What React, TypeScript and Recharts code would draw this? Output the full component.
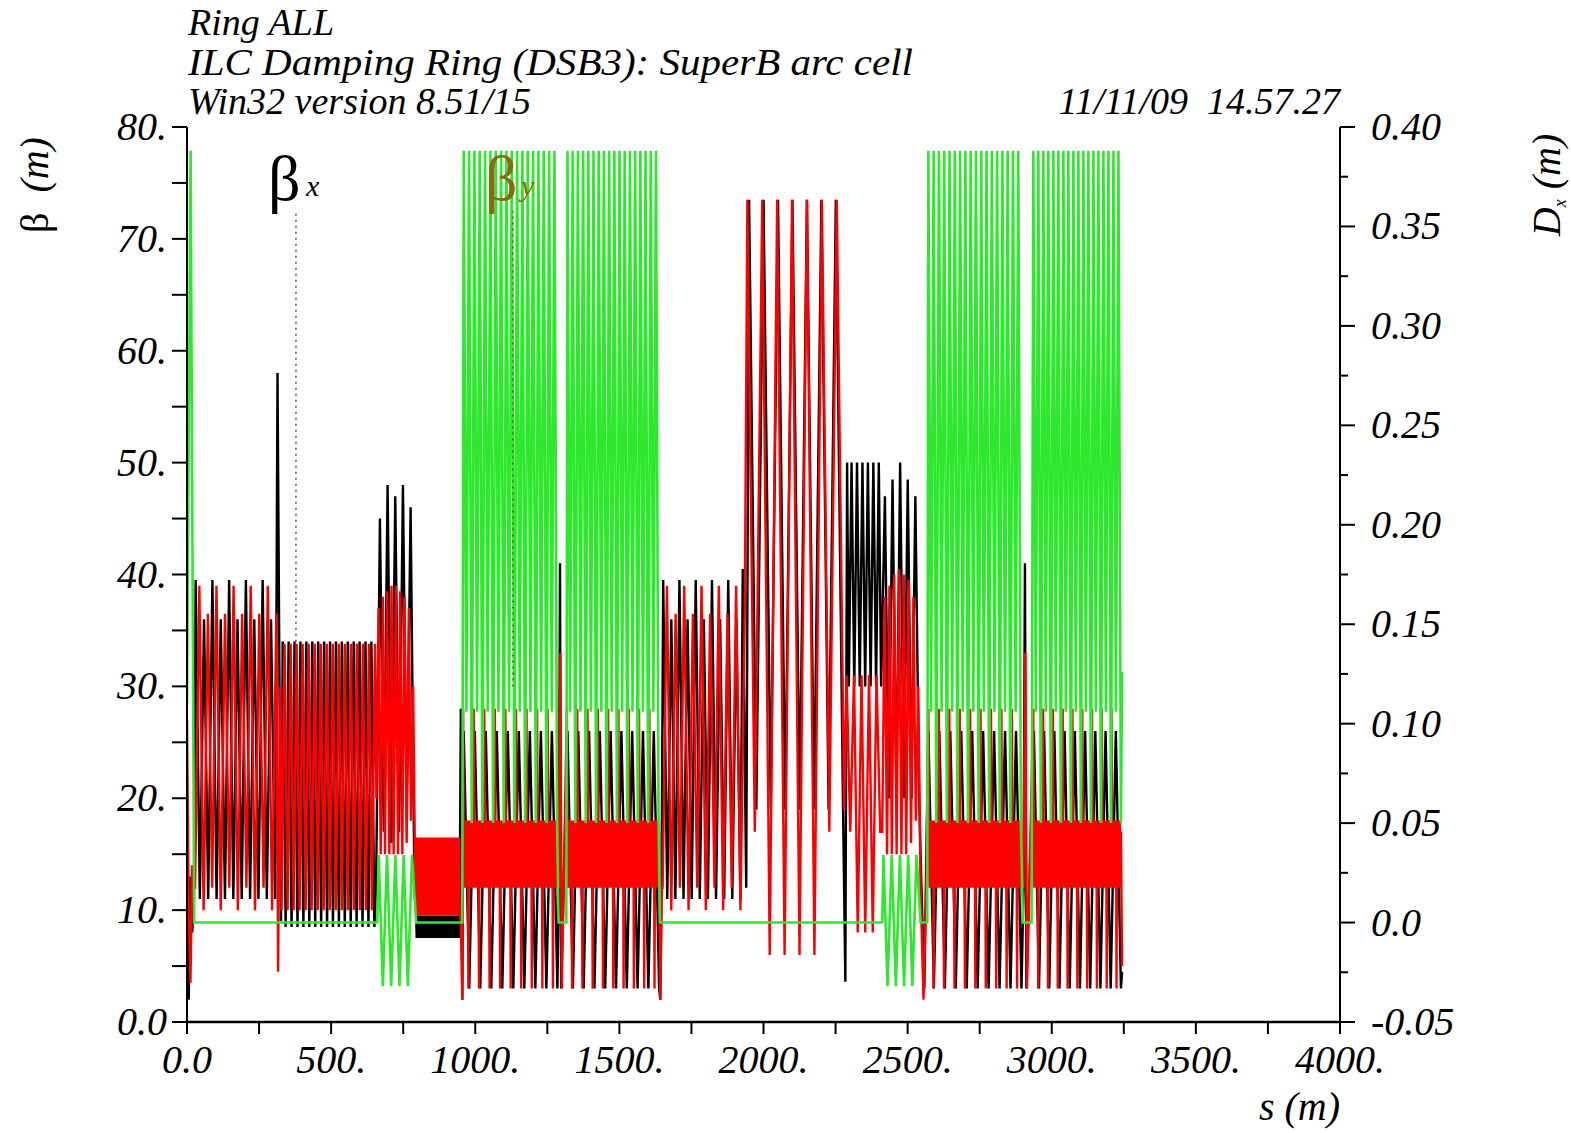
import { LineChart, Line, XAxis, YAxis, ReferenceLine } from 'recharts';

// run = [s from, s to, how many times the values repeat]
type Run = [number, number, number[], number];

const S_TICKS = [0, 250, 500, 750, 1000, 1250, 1500, 1750, 2000, 2250, 2500, 2750, 3000, 3250, 3500, 3750, 4000];
const S_LABELS: Record<number, string> = { 0: '0.0', 500: '500.', 1000: '1000.', 1500: '1500.', 2000: '2000.', 2500: '2500.', 3000: '3000.', 3500: '3500.', 4000: '4000.' };
const BETA_TICKS = [0, 5, 10, 15, 20, 25, 30, 35, 40, 45, 50, 55, 60, 65, 70, 75, 80];
const BETA_LABELS: Record<number, string> = { 0: '0.0', 10: '10.', 20: '20.', 30: '30.', 40: '40.', 50: '50.', 60: '60.', 70: '70.', 80: '80.' };
const DISP_TICKS = [-0.05, -0.025, 0, 0.025, 0.05, 0.075, 0.1, 0.125, 0.15, 0.175, 0.2, 0.225, 0.25, 0.275, 0.3, 0.325, 0.35, 0.375, 0.4];
const DISP_LABELS = ['-0.05', '0.0', '0.05', '0.10', '0.15', '0.20', '0.25', '0.30', '0.35', '0.40'];

// one arc cell (about 37 m) of each function
const ARC_BX_CELL = [26, 3];
const ARC_BY_CELL = [28, 17, 12, 18, 12, 18, 12, 18, 12, 18, 3, 18, 12, 18, 12, 18, 12, 18, 12, 17];
const ARC_DX_CELL = [0.388, 0.106, 0.388, 0.05];
const ARC_CELLS = 9;

// one cell of the straight-section matching blocks
const MATCH_BX_CELL = [39.5, 11, 36, 11];
const MATCH_BY_CELL = [12, 39, 10, 36.5];

const BETA_X_RUNS: Run[] = [
  [0, 24, [12, 2, 13, 8, 11], 1],
  [30, 306, MATCH_BX_CELL, 5],
  [314, 326, [58, 9], 1],
  [332, 650, [34, 8.5], 16],
  [656, 789, [12, 45, 17, 48, 16, 47, 17, 48, 18, 46, 12], 1],
  [795, 945, [9.5, 7.5], 40],
  [950, 955, [28, 2], 1],
  [960, 1285, ARC_BX_CELL, ARC_CELLS],
  [1290, 1298, [12, 41, 3], 1],
  [1320, 1638, ARC_BX_CELL, ARC_CELLS],
  [1642, 1646, [2, 11], 1],
  [1652, 1920, MATCH_BX_CELL, 5],
  [1928, 1940, [40.5, 12], 1],
  [1950, 2276, [73.5, 19], 7],
  [2284, 2290, [3.6, 50], 1],
  [2296, 2400, [30, 50], 6],
  [2408, 2540, [30, 47, 20, 48.5, 20, 50, 20, 48.5, 20, 47, 20], 1],
  [2548, 2568, [12, 3, 20], 1],
  [2572, 2895, ARC_BX_CELL, ARC_CELLS],
  [2902, 2912, [12, 41, 3], 1],
  [2938, 3240, ARC_BX_CELL, ARC_CELLS],
  [3244, 3244, [4.5], 1],
];

const BETA_Y_RUNS: Run[] = [
  [0, 24, [27, 10, 3.5, 14, 12], 1],
  [28, 310, MATCH_BY_CELL, 5],
  [316, 324, [4.5, 30], 1],
  [328, 652, [10, 33.8], 16],
  [657, 792, [20, 37, 15, 38, 15, 38.5, 15, 39, 15, 39, 15, 38.5, 15, 38, 16, 37, 18, 30, 12], 1],
  [796, 946, [16.5, 9.5], 42],
  [950, 955, [9, 2], 1],
  [958, 1286, ARC_BY_CELL, ARC_CELLS],
  [1290, 1300, [12, 33, 3], 1],
  [1318, 1638, ARC_BY_CELL, ARC_CELLS],
  [1642, 1647, [2, 12], 1],
  [1650, 1935, MATCH_BY_CELL, 5],
  [1944, 2280, [73.5, 17, 73.5, 6, 73.5, 6, 73.5, 6, 73.5, 6, 73.5, 17, 73.5, 19], 1],
  [2288, 2405, [31, 17, 31, 8, 31, 8, 31, 8, 31, 17], 1],
  [2412, 2545, [17, 38, 15, 39, 15, 40, 15, 40.5, 15, 40, 15, 39.5, 16, 38, 18, 30, 12], 1],
  [2555, 2565, [2, 12], 1],
  [2572, 2896, ARC_BY_CELL, ARC_CELLS],
  [2902, 2914, [12, 33, 3], 1],
  [2936, 3240, ARC_BY_CELL, ARC_CELLS],
  [3244, 3244, [5], 1],
];

const DISP_X_RUNS: Run[] = [
  [0, 25, [0.11, 0.388, 0], 1],
  [30, 660, [0, 0], 1],
  [665, 795, [0.034, -0.032, 0.034, -0.032, 0.034, -0.032, 0.034, -0.032, 0.034, 0], 1],
  [800, 955, [0, 0], 1],
  [960, 1284, ARC_DX_CELL, ARC_CELLS],
  [1289, 1316, [0, 0], 1],
  [1320, 1636, ARC_DX_CELL, ARC_CELLS],
  [1641, 2412, [0, 0], 1],
  [2416, 2545, [0.034, -0.032, 0.034, -0.032, 0.034, -0.032, 0.034, -0.032, 0.034, 0], 1],
  [2550, 2568, [0, 0], 1],
  [2572, 2893, ARC_DX_CELL, ARC_CELLS],
  [2900, 2930, [0, 0], 1],
  [2936, 3240, ARC_DX_CELL, ARC_CELLS],
  [3244, 3244, [0.126], 1],
];

const expand = (runs: Run[]) => {
  const pts: { s: number; v: number }[] = [];
  runs.forEach(([a, b, vals, n]) => {
    const total = vals.length * n;
    const step = total > 1 ? (b - a) / (total - 1) : 0;
    for (let i = 0; i < total; i++) pts.push({ s: a + i * step, v: vals[i % vals.length] });
  });
  return pts;
};

const betaX = expand(BETA_X_RUNS);
const betaY = expand(BETA_Y_RUNS);
const dispX = expand(DISP_X_RUNS);

const FONT = "'Liberation Serif', 'DejaVu Serif', serif";
const textStyle = { fontFamily: FONT, fontStyle: 'italic' as const, fontSize: 40, fill: '#000' };
const titleStyle = { ...textStyle, fontSize: 38 };

const LeftTick = ({ x, y, payload }: any) => (
  <g>
    <line x1={x} x2={x - 15} y1={y} y2={y} stroke="#000" strokeWidth={2} />
    {BETA_LABELS[payload.value] && (
      <text x={x - 20} y={y + 13} textAnchor="end" style={textStyle}>{BETA_LABELS[payload.value]}</text>
    )}
  </g>
);

const RightTick = ({ x, y, payload }: any) => {
  const k = Math.round((payload.value + 0.05) / 0.025);
  const major = k % 2 === 0;
  return (
    <g>
      <line x1={x} x2={x + (major ? 15 : 8)} y1={y} y2={y} stroke="#000" strokeWidth={2} />
      {major && (
        <text x={x + 31} y={y + 13} textAnchor="start" style={textStyle}>{DISP_LABELS[k / 2]}</text>
      )}
    </g>
  );
};

const BottomTick = ({ x, y, payload }: any) => (
  <g>
    <line x1={x} x2={x} y1={y} y2={y + 12} stroke="#000" strokeWidth={2} />
    {S_LABELS[payload.value] && (
      <text x={x} y={y + 51} textAnchor="middle" style={textStyle}>{S_LABELS[payload.value]}</text>
    )}
  </g>
);

const TopTick = ({ x, y }: any) => (
  <line x1={x} x2={x} y1={y} y2={y + 10} stroke="#000" strokeWidth={2} />
);

const App = () => {
  return (
    <div style={{ position: 'absolute', left: 0, top: 0, width: 1571, height: 1133, background: '#fff' }}>
      <LineChart width={1571} height={1133} data={betaX} margin={{ top: 127, right: 131, bottom: 51, left: 107 }}>
        <XAxis xAxisId="B" dataKey="s" type="number" domain={[0, 4000]} ticks={S_TICKS} tick={BottomTick}
          tickSize={0} tickMargin={0} tickLine={false} height={60} allowDataOverflow
          axisLine={{ stroke: '#000', strokeWidth: 2.5 }} />
        <XAxis xAxisId="T" orientation="top" dataKey="s" type="number" domain={[0, 4000]} ticks={S_TICKS} tick={TopTick}
          tickSize={0} tickMargin={0} tickLine={false} height={0} allowDataOverflow
          axisLine={{ stroke: '#000', strokeWidth: 2.5 }} />
        <YAxis yAxisId="L" type="number" domain={[0, 80]} ticks={BETA_TICKS} tick={LeftTick} width={80}
          tickSize={0} tickMargin={0} tickLine={false} allowDataOverflow
          axisLine={{ stroke: '#000', strokeWidth: 2 }} />
        <YAxis yAxisId="R" orientation="right" type="number" domain={[-0.05, 0.4]} ticks={DISP_TICKS} tick={RightTick} width={100}
          tickSize={0} tickMargin={0} tickLine={false} allowDataOverflow
          axisLine={{ stroke: '#000', strokeWidth: 2 }} />
        <ReferenceLine xAxisId="B" yAxisId="L" segment={[{ x: 378, y: 34 }, { x: 378, y: 72.5 }]}
          stroke="#555" strokeWidth={1.5} strokeDasharray="2 4" />
        <Line xAxisId="B" yAxisId="L" data={betaX} dataKey="v" stroke="#000" strokeWidth={2.4} dot={false}
          type="linear" isAnimationActive={false} />
        <Line xAxisId="B" yAxisId="L" data={betaY} dataKey="v" stroke="#ff0000" strokeWidth={2.4} dot={false}
          type="linear" isAnimationActive={false} />
        <Line xAxisId="B" yAxisId="R" data={dispX} dataKey="v" stroke="#2ee82e" strokeWidth={2.6} dot={false}
          type="linear" isAnimationActive={false} />
        <ReferenceLine xAxisId="B" yAxisId="L" segment={[{ x: 1131, y: 30 }, { x: 1131, y: 72.5 }]}
          stroke="#6b5a10" strokeWidth={1.5} strokeDasharray="2 4" />
      </LineChart>
      <svg width={1571} height={1133} style={{ position: 'absolute', left: 0, top: 0, pointerEvents: 'none' }}>
        <text x={188} y={35} style={titleStyle}>Ring ALL</text>
        <text x={188} y={75} style={titleStyle} textLength={725} lengthAdjust="spacingAndGlyphs">ILC Damping Ring (DSB3): SuperB arc cell</text>
        <text x={188} y={114} style={titleStyle}>Win32 version 8.51/15</text>
        <text x={1340} y={114} textAnchor="end" style={{ ...titleStyle, whiteSpace: 'pre' }}>11/11/09  14.57.27</text>
        <text x={1340} y={1120} textAnchor="end" style={{ ...textStyle, whiteSpace: 'pre' }}>s (m)</text>
        <text transform="rotate(-90 48 185)" x={48} y={185} textAnchor="middle" style={{ ...textStyle, whiteSpace: 'pre' }}>
          <tspan fontStyle="normal">β</tspan>  (m)
        </text>
        <text transform="rotate(-90 1560 185)" x={1560} y={185} textAnchor="middle" style={{ ...textStyle, whiteSpace: 'pre' }}>
          D<tspan fontSize={18} dy={6}>x</tspan><tspan dy={-6}> (m)</tspan>
        </text>
        <text x={268} y={200} style={{ fontFamily: FONT, fontSize: 64, fill: '#000' }}>β</text>
        <text x={306} y={196} style={{ ...textStyle, fontSize: 30 }}>x</text>
        <text x={485} y={200} style={{ fontFamily: FONT, fontSize: 64, fill: '#8a6a10' }}>β</text>
        <text x={521} y={196} style={{ ...textStyle, fontSize: 30, fill: '#8a6a10' }}>y</text>
      </svg>
    </div>
  );
};

export default App;
